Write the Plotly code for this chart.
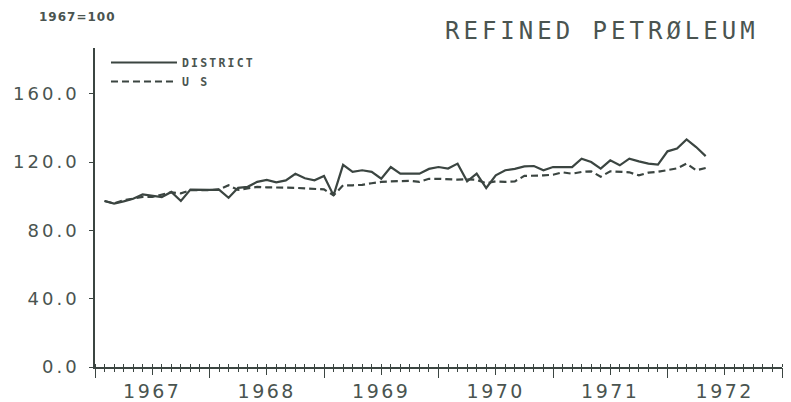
import plotly.graph_objects as go

# Monthly index (1 = Jan 1967) and price indexes, 1967=100
months = list(range(1, 65))

district = [97.2, 95.7, 97.0, 98.5, 101.1, 100.5, 99.5, 102.5, 97.2, 103.9, 103.7, 103.7,
            103.9, 99.1, 104.9, 105.5, 108.4, 109.6, 108.1, 109.3, 113.1, 110.5, 109.3, 111.9,
            100.5, 118.4, 114.3, 115.2, 114.3, 110.3, 117.1, 113.2, 113.2, 113.2, 116.0, 117.1,
            116.2, 119.1, 108.7, 113.2, 104.8, 112.2, 115.2, 116.0, 117.5, 117.7, 115.2, 117.1,
            117.1, 117.1, 122.0, 120.0, 116.2, 121.0, 118.1, 122.0, 120.4, 119.1, 118.5, 126.3,
            127.9, 133.3, 128.8, 123.5]

us = [97.2, 95.8, 97.6, 98.5, 99.6, 99.6, 101.1, 102.3, 101.7, 103.5, 103.5, 103.5,
      104.0, 106.4, 103.7, 104.6, 105.5, 105.2, 105.2, 105.2, 104.9, 104.6, 104.4, 104.0,
      100.5, 106.4, 106.4, 106.7, 107.6, 108.4, 108.7, 109.0, 109.0, 108.4, 110.2, 110.2,
      109.9, 109.7, 109.9, 109.6, 107.6, 108.7, 108.4, 108.7, 111.9, 111.9, 112.2, 112.6,
      114.0, 113.2, 114.2, 114.6, 111.4, 114.6, 114.3, 114.0, 112.2, 113.8, 114.3, 115.5,
      116.3, 119.1, 115.2, 116.5]

years = ["1967", "1968", "1969", "1970", "1971", "1972"]
year_mid = [6, 18, 30, 42, 54, 66]
year_edges = [0, 12, 24, 36, 48, 60, 72]
month_ticks = list(range(0, 73))

y_ticks = [0, 40, 80, 120, 160]
y_labels = ["0.0", "40.0", "80.0", "120.0", "160.0"]

INK = "#3b4541"
TXT = "#4a5450"


def spaced(s, px):
    return f'<span style="letter-spacing:{px}px">{s}</span>'


fig = go.Figure()
fig.add_trace(go.Scatter(x=months, y=district, mode="lines", name=spaced("DISTRICT", 2.2),
                         line=dict(color=INK, width=2.2)))
fig.add_trace(go.Scatter(x=months, y=us, mode="lines", name=spaced("U S", 2.2),
                         line=dict(color=INK, width=2.2, dash="7px,4px")))
# empty trace so the overlaid tick axis is drawn
fig.add_trace(go.Scatter(x=[None], y=[None], xaxis="x2", showlegend=False, hoverinfo="skip"))

fig.update_layout(
    width=791, height=402,
    margin=dict(l=95, r=9, t=48, b=35),
    paper_bgcolor="white", plot_bgcolor="white",
    showlegend=True,
    legend=dict(x=0.016, y=1.0, xanchor="left", yanchor="top",
                bgcolor="rgba(0,0,0,0)", borderwidth=0, itemwidth=66,
                tracegroupgap=0,
                font=dict(family="DejaVu Sans Mono", size=11.5, color=TXT, weight="bold")),
    xaxis=dict(range=[0, 72], showgrid=False, zeroline=False, automargin=False,
               showline=True, linecolor=INK, linewidth=1.5,
               tickmode="array", tickvals=year_mid,
               ticktext=[spaced(y, 2.5) for y in years],
               ticks="outside", ticklen=6, tickwidth=1.3, tickcolor=INK,
               ticklabelstandoff=0,
               tickfont=dict(family="DejaVu Sans", size=19, color=TXT),
               minor=dict(tickmode="array", tickvals=month_ticks, ticks="outside",
                          ticklen=3, tickwidth=1.2, tickcolor=INK, showgrid=False)),
    xaxis2=dict(range=[0, 72], overlaying="x", anchor="y", side="bottom",
                showgrid=False, zeroline=False, showline=False, automargin=False,
                tickmode="array", tickvals=year_edges, showticklabels=False,
                ticks="outside", ticklen=10, tickwidth=1.3, tickcolor=INK,
                minor=dict(tickmode="array", tickvals=month_ticks, ticks="inside",
                           ticklen=3, tickwidth=1.2, tickcolor=INK, showgrid=False)),
    yaxis=dict(range=[0, 186.8], showgrid=False, zeroline=False, automargin=False,
               showline=True, linecolor=INK, linewidth=1.5,
               tickmode="array", tickvals=y_ticks,
               ticktext=[spaced(t, 3) for t in y_labels],
               ticks="outside", ticklen=4, tickwidth=1.3, tickcolor=INK,
               ticklabelstandoff=6,
               tickfont=dict(family="DejaVu Sans", size=18, color=TXT)),
    annotations=[
        dict(text=spaced("REFINED PETRØLEUM", 4), xref="paper", yref="paper",
             x=0.738, y=1.052, xanchor="center", yanchor="middle", showarrow=False,
             font=dict(family="DejaVu Sans Mono", size=24, color=TXT)),
        dict(text=spaced("1967=100", 1), xref="paper", yref="paper",
             x=-0.025, y=1.097, xanchor="center", yanchor="middle", showarrow=False,
             font=dict(family="DejaVu Sans", size=12, color=TXT, weight="bold")),
    ],
)

fig.write_html("out.html")
